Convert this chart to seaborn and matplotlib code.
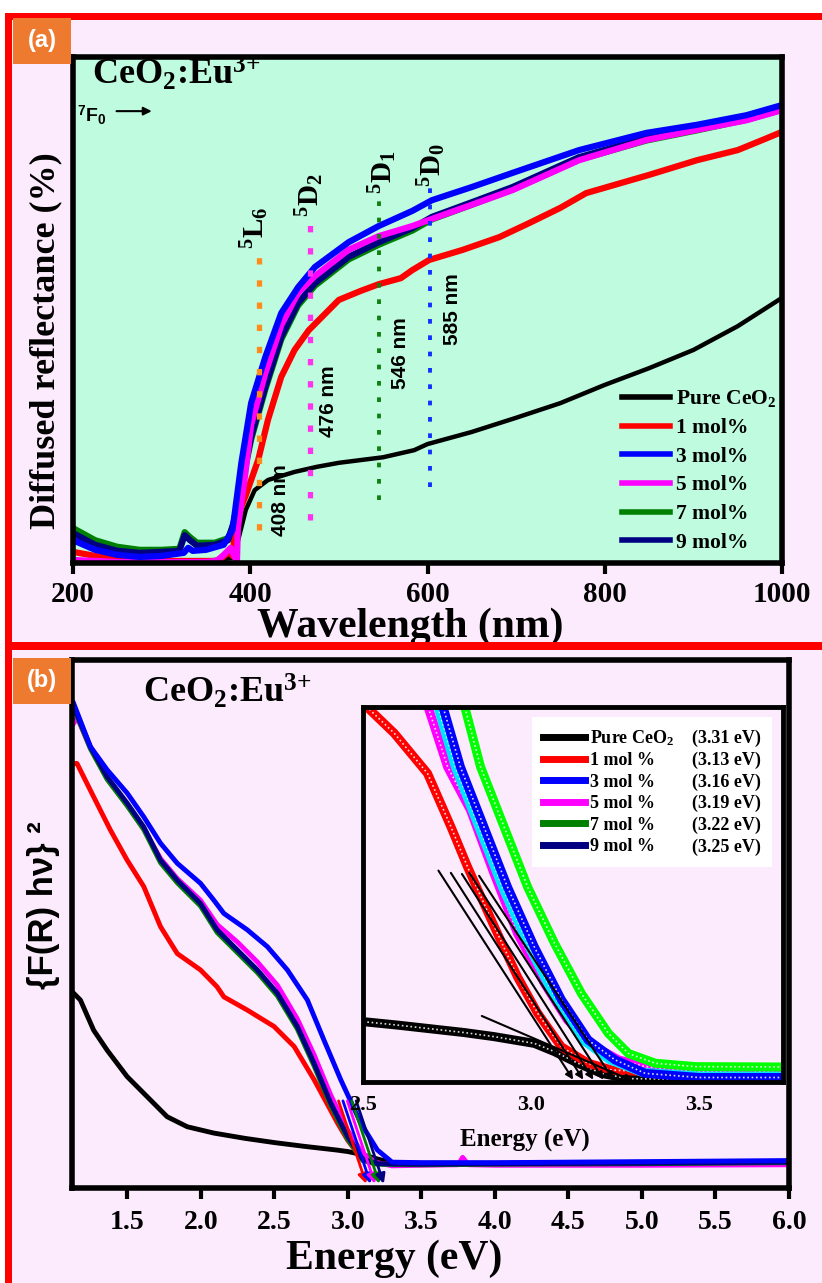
import matplotlib
matplotlib.use("Agg")
import matplotlib.pyplot as plt
import seaborn as sns
from matplotlib.lines import Line2D
from matplotlib.patches import Rectangle

# ---------------- panel (a): diffused reflectance (%) vs wavelength (nm) ----------------
wl_pure = [200, 250, 300, 350, 380, 385, 395, 405, 420, 450, 475, 500, 550, 585, 600,
           650, 700, 750, 800, 850, 900, 950, 1000]
refl_pure = [0.2, 0.2, 0.2, 0.4, 1.0, 3.6, 10.5, 14.4, 16.4, 18.0, 19.0, 19.8, 20.9, 22.3, 23.5,
             25.9, 28.7, 31.6, 35.2, 38.5, 42.1, 46.8, 52.4]

wl_1 = [200, 225, 250, 300, 350, 365, 375, 380, 384, 395, 409, 420, 435, 450, 466, 500, 525,
        545, 570, 583, 602, 640, 681, 715, 750, 779, 850, 904, 950, 978, 1000]
refl_1 = [2.2, 1.4, 0.6, 0.4, 0.4, 0.4, 2.2, 1.4, 8.5, 13.4, 20.4, 28.3, 36.8, 42.1, 46.0, 52.0, 53.8,
          55.1, 56.3, 57.9, 59.9, 61.9, 64.4, 67.2, 70.2, 73.1, 76.7, 79.6, 81.6, 83.6, 85.2]

wl_3 = [200, 225, 250, 275, 300, 325, 330, 335, 350, 370, 380, 390, 401, 417, 435, 454, 473,
        511, 545, 583, 605, 650, 696, 771, 847, 904, 960, 1000]
refl_3 = [4.5, 2.6, 1.6, 1.2, 1.4, 2.0, 3.0, 2.4, 2.6, 3.6, 6.5, 19.8, 31.6, 40.7, 49.4, 54.5, 58.5,
          63.4, 66.6, 69.6, 71.7, 74.3, 77.1, 81.6, 85.0, 86.6, 88.5, 90.5]

wl_5 = [200, 250, 300, 350, 362, 370, 378, 383, 385, 386, 395, 401, 417, 435, 454, 473, 511,
        545, 583, 605, 650, 696, 771, 847, 904, 960, 1000]
refl_5 = [0.6, 0.2, 0.2, 0.2, 0.4, 1.6, 3.0, 1.0, 0.4, 6.9, 18.4, 27.3, 37.5, 47.0, 53.4, 56.7, 61.9,
          64.6, 66.6, 68.0, 70.8, 73.7, 79.6, 83.6, 85.6, 87.5, 89.5]

wl_7 = [200, 225, 250, 275, 300, 320, 326, 332, 340, 360, 375, 381, 390, 401, 417, 435, 454,
        473, 511, 545, 583, 605, 650, 696, 771, 847, 904, 960, 1000]
refl_7 = [6.9, 4.5, 3.2, 2.6, 2.6, 2.8, 6.1, 5.1, 4.0, 4.0, 4.9, 7.5, 15.0, 24.4, 34.3, 44.2, 50.9,
          54.8, 60.0, 62.9, 65.7, 67.9, 70.8, 73.8, 79.7, 83.5, 85.5, 87.6, 89.6]

wl_9 = [200, 225, 250, 275, 300, 320, 326, 332, 340, 360, 375, 381, 390, 401, 417, 435, 454,
        473, 511, 545, 583, 605, 650, 696, 771, 847, 904, 960, 1000]
refl_9 = [5.9, 3.6, 2.4, 2.0, 2.2, 2.4, 5.5, 4.5, 3.4, 3.6, 4.5, 7.9, 15.4, 24.9, 34.8, 44.7, 51.4,
          55.3, 60.5, 63.4, 66.2, 68.4, 71.3, 74.3, 80.2, 84.0, 86.0, 88.1, 90.1]

# Eu3+ transitions marked by dotted lines
trans_wl = [410, 467, 545, 603]
trans_top = [61.9, 68.4, 73.7, 75.7]
trans_bottom = [6.5, 8.5, 12.5, 15.0]
trans_terms = [r"$^5$L$_6$", r"$^5$D$_2$", r"$^5$D$_1$", r"$^5$D$_0$"]
trans_nm = ["408 nm", "476 nm", "546 nm", "585 nm"]

# ---------------- panel (b): {F(R) hv}^2 vs energy (eV) ----------------
E_pure = [1.134, 1.18, 1.27, 1.362, 1.498, 1.634, 1.77, 1.907, 2.088, 2.3, 2.5, 2.7, 2.92, 3.0,
          3.1, 3.2, 3.3, 3.5, 4.0, 5.0, 6.0]
F_pure = [36.9, 35.6, 29.9, 26.1, 21.1, 17.3, 13.5, 11.6, 10.4, 9.4, 8.6, 7.9, 7.2, 6.9,
          6.3, 5.5, 4.8, 4.7, 4.7, 4.8, 5.0]

E_1 = [1.134, 1.157, 1.27, 1.384, 1.498, 1.611, 1.725, 1.839, 1.997, 2.11, 2.156, 2.315, 2.497,
       2.634, 2.77, 2.929, 2.997, 3.08, 3.15, 3.25, 3.5, 4.0, 5.0, 6.0]
F_1 = [80.4, 80.4, 74.1, 67.8, 62.1, 57.1, 49.5, 44.4, 41.3, 38.1, 36.2, 33.7, 30.6,
       26.8, 20.5, 12.3, 9.1, 6.0, 4.8, 4.6, 4.5, 4.5, 4.6, 4.9]

E_3 = [1.134, 1.248, 1.362, 1.498, 1.611, 1.725, 1.839, 1.997, 2.088, 2.156, 2.315, 2.452, 2.588,
       2.724, 2.837, 2.951, 3.087, 3.2, 3.3, 3.5, 4.0, 5.0, 6.0]
F_3 = [91.8, 83.6, 79.2, 74.8, 70.3, 65.3, 61.5, 57.7, 54.5, 52.0, 48.9, 45.7, 41.3,
       35.6, 28.0, 20.5, 12.3, 7.2, 4.9, 4.8, 4.8, 5.0, 5.2]

E_5 = [1.134, 1.16, 1.248, 1.362, 1.498, 1.611, 1.725, 1.839, 1.997, 2.11, 2.247, 2.384, 2.52,
       2.656, 2.77, 2.883, 2.997, 3.1, 3.2, 3.3, 3.5, 3.75, 3.78, 3.82, 4.0, 5.0, 6.0]
F_5 = [88.0, 89.0, 83.3, 77.5, 72.5, 68.0, 62.4, 58.6, 54.5, 49.9, 46.6, 42.8, 38.4,
       32.0, 25.2, 17.6, 11.0, 6.5, 4.8, 4.2, 4.3, 4.4, 5.8, 4.4, 4.3, 4.3, 4.4]

E_7 = [1.134, 1.248, 1.362, 1.498, 1.611, 1.725, 1.839, 1.997, 2.11, 2.247, 2.384, 2.52, 2.656,
       2.77, 2.883, 2.997, 3.1, 3.2, 3.5, 4.0, 5.0, 6.0]
F_7 = [91.0, 83.2, 77.4, 72.4, 67.9, 61.6, 57.8, 53.4, 48.4, 44.6, 40.8, 36.4, 30.1,
       23.1, 15.6, 9.3, 5.2, 4.5, 4.4, 4.5, 4.6, 4.8]

E_9 = [1.134, 1.248, 1.362, 1.498, 1.611, 1.725, 1.839, 1.997, 2.11, 2.247, 2.384, 2.52, 2.656,
       2.77, 2.883, 2.997, 3.1, 3.2, 3.5, 4.0, 5.0, 6.0]
F_9 = [91.2, 83.6, 77.9, 72.9, 68.4, 62.1, 58.3, 53.9, 48.9, 45.1, 41.3, 36.9, 30.6,
       23.6, 16.1, 9.8, 5.5, 4.6, 4.5, 4.6, 4.7, 4.9]

# band gaps (eV) for Pure, 1, 3, 5, 7, 9 mol %
gap_labels = ["Pure CeO$_2$", "1 mol %", "3 mol %", "5 mol %", "7 mol %", "9 mol %"]
gap_values = [3.31, 3.13, 3.16, 3.19, 3.22, 3.25]

# ---------------- inset: zoom of the absorption edge ----------------
Ei_pure = [2.5, 2.6, 2.69, 2.8, 2.89, 2.95, 3.01, 3.07, 3.14, 3.21, 3.29, 3.4, 3.6, 3.75]
Fi_pure = [16.1, 15.2, 14.3, 13.2, 12.1, 11.2, 10.3, 8.1, 5.0, 2.3, 0.9, 0.8, 0.8, 0.8]
Ei_1 = [2.5, 2.593, 2.692, 2.762, 2.811, 2.891, 2.96, 3.02, 3.09, 3.17, 3.24, 3.4, 3.6, 3.7, 3.75]
Fi_1 = [101, 93, 82.3, 68, 57.4, 41.4, 28, 18.3, 9.4, 5.0, 3.2, 2.5, 2.5, 3.0, 4.0]
Ei_5 = [2.69, 2.752, 2.82, 2.89, 2.96, 3.04, 3.109, 3.19, 3.26, 3.34, 3.5, 3.65, 3.75]
Fi_5 = [101, 84, 72.5, 55.6, 39.6, 26.3, 16.5, 9.4, 5.9, 4.1, 2.8, 2.5, 3.2]
Ei_9 = [2.72, 2.775, 2.845, 2.915, 2.995, 3.075, 3.155, 3.235, 3.33, 3.5, 3.75]
Fi_9 = [101, 84, 68, 52, 36, 22, 11.2, 5.9, 2.6, 1.6, 1.6]
Ei_3 = [2.735, 2.79, 2.86, 2.93, 3.01, 3.09, 3.17, 3.25, 3.34, 3.5, 3.75]
Fi_3 = [101, 84, 68, 52, 36, 22, 11.2, 5.9, 2.3, 1.2, 1.2]
Ei_7 = [2.80, 2.85, 2.92, 2.99, 3.07, 3.15, 3.23, 3.29, 3.37, 3.49, 3.75]
Fi_7 = [101, 84, 68, 52, 37, 23.6, 13, 7.6, 5, 4.1, 4.0]

# tangent lines (start points) extrapolated to the gaps
tan_E = [2.846, 2.72, 2.757, 2.79, 2.812, 2.841]
tan_F = [17.9, 57.0, 56.4, 56.1, 56.4, 55.6]

W, H = 822, 1283
LAVENDER = "#FCEBFC"
MINT = "#BEFBDF"
ORANGE = "#EE7A30"
colors = ["black", "#FF0000", "#0000FF", "#FF00FF", "#008000", "#000080"]

plt.rcParams["font.family"] = ["Liberation Serif", "DejaVu Serif"]
plt.rcParams["font.weight"] = "bold"
plt.rcParams["mathtext.fontset"] = "custom"
plt.rcParams["mathtext.rm"] = "Liberation Serif:bold"
plt.rcParams["mathtext.it"] = "Liberation Serif:italic:bold"
plt.rcParams["mathtext.bf"] = "Liberation Serif:bold"
plt.rcParams["mathtext.sf"] = "Liberation Sans:bold"


def fx(px):
    return px / W


def fy(py):
    return 1 - py / H


fig = plt.figure(figsize=(W / 100, H / 100), dpi=100, facecolor="white")

# page decoration: lavender panel + red frame lines + orange panel tags
fig.add_artist(Rectangle((fx(12), 0), 1 - fx(12), fy(20), transform=fig.transFigure,
                         fc=LAVENDER, ec="none", zorder=-10))
fig.add_artist(Rectangle((fx(5), fy(20)), 1 - fx(5), 7 / H, transform=fig.transFigure,
                         fc="red", ec="none"))
fig.add_artist(Rectangle((fx(5), 0), 7 / W, fy(13), transform=fig.transFigure,
                         fc="red", ec="none"))
fig.add_artist(Rectangle((fx(5), fy(650)), 1 - fx(5), 8 / H, transform=fig.transFigure,
                         fc="red", ec="none"))
for tag, top in [("(a)", 18), ("(b)", 658)]:
    fig.add_artist(Rectangle((fx(13), fy(top + 46)), 58 / W, 46 / H, transform=fig.transFigure,
                             fc=ORANGE, ec="none", zorder=5))
    fig.text(fx(42), fy(top + 23), tag, color="white", fontsize=17, fontweight="bold",
             family="Liberation Sans", ha="center", va="center", zorder=6)

# ======================= panel (a) =======================
ax_a = fig.add_axes([fx(73), fy(563), fx(782) - fx(73), (563 - 57) / H])
ax_a.set_facecolor(MINT)

series_a = [(wl_pure, refl_pure, colors[0], 3.2),
            (wl_1, refl_1, colors[1], 4.5),
            (wl_7, refl_7, colors[4], 4.5),
            (wl_9, refl_9, colors[5], 4.5),
            (wl_5, refl_5, colors[3], 4.5),
            (wl_3, refl_3, colors[2], 4.5)]
for xs, ys, c, lw in series_a:
    sns.lineplot(x=xs, y=ys, ax=ax_a, color=c, linewidth=lw, estimator=None,
                 sort=False, legend=False)

dot_colors = ["#FF8C1A", "#FF33EE", "#108010", "#1030FF"]
dot_lw = [3.8, 3.8, 2.8, 2.8]
for wl, top, bot, c, lw in zip(trans_wl, trans_top, trans_bottom, dot_colors, dot_lw):
    ax_a.plot([wl, wl], [bot, top], color=c, lw=lw, ls=(0, (1.2, 3.0)),
              dash_capstyle="butt", zorder=4)

term_pos = [(405, 66.2), (467, 72.7), (549, 77.3), (605, 78.7)]
for (x, y), t in zip(term_pos, trans_terms):
    ax_a.text(x, y, t, rotation=90, fontsize=21, ha="center", va="center")
nm_pos = [(434, 12.5), (488, 32.0), (570, 41.5), (628, 50.2)]
for (x, y), t in zip(nm_pos, trans_nm):
    ax_a.text(x, y, t, rotation=90, fontsize=15, ha="center", va="center",
              family="Liberation Sans", fontweight="bold")

ax_a.text(221, 94.5, r"CeO$_2$:Eu$^{3{+}}$", fontsize=26, va="baseline")
ax_a.text(205, 88.5, r"$^{\mathsf{7}}\mathsf{F}_{\mathsf{0}}$", fontsize=14, va="center")
ax_a.annotate("", xy=(292, 89.3), xytext=(246, 89.3),
              arrowprops=dict(arrowstyle="-|>", lw=1.5, color="black", mutation_scale=12))

ax_a.set_xlim(200, 1000)
ax_a.set_ylim(0, 100)
ax_a.set_xticks([200, 400, 600, 800, 1000])
ax_a.tick_params(axis="x", direction="out", length=8, width=3, labelsize=21, pad=5)
ax_a.tick_params(axis="y", left=False, labelleft=False)
ax_a.set_xlabel("Wavelength (nm)", fontsize=30, fontweight="bold")
ax_a.xaxis.set_label_coords(0.475, -0.088)
ax_a.set_ylabel("Diffused reflectance (%)", fontsize=26, fontweight="bold")
ax_a.yaxis.set_label_coords(-0.015, 0.44)
for s in ax_a.spines.values():
    s.set_linewidth(4)

handles_a = [Line2D([0], [0], color=c, lw=4) for c in colors]
labels_a = ["Pure CeO$_2$", "1 mol%", "3 mol%", "5 mol%", "7 mol%", "9 mol%"]
ax_a.legend(handles_a, labels_a, loc="upper left", bbox_to_anchor=(0.775, 0.345),
            frameon=False, borderpad=0, borderaxespad=0, handlelength=2.2,
            handletextpad=0.3, labelspacing=0.4, prop=dict(size=15.5, weight="bold"))

# ======================= panel (b) =======================
ax_b = fig.add_axes([fx(72), fy(1188), fx(789) - fx(72), (1188 - 660) / H])
ax_b.set_facecolor(LAVENDER)

series_b = [(E_pure, F_pure, colors[0]),
            (E_1, F_1, colors[1]),
            (E_5, F_5, colors[3]),
            (E_7, F_7, colors[4]),
            (E_9, F_9, colors[5]),
            (E_3, F_3, colors[2])]
for xs, ys, c in series_b:
    sns.lineplot(x=xs, y=ys, ax=ax_b, color=c, linewidth=3.5, estimator=None,
                 sort=False, legend=False)

for g, c in zip(gap_values[1:], colors[1:]):
    ax_b.annotate("", xy=(g, 0.3), xytext=(g - 0.2, 17),
                  arrowprops=dict(arrowstyle="-|>", lw=2, color=c, mutation_scale=14))

ax_b.text(1.609, 91.9, r"CeO$_2$:Eu$^{3{+}}$", fontsize=26, va="baseline")
ax_b.set_xlim(1.123, 6.0)
ax_b.set_ylim(0, 100)
ax_b.set_xticks([1.5, 2.0, 2.5, 3.0, 3.5, 4.0, 4.5, 5.0, 5.5, 6.0])
ax_b.set_xticklabels([f"{v:.1f}" for v in ax_b.get_xticks()])
ax_b.tick_params(axis="x", direction="out", length=8, width=3, labelsize=20, pad=8)
ax_b.tick_params(axis="y", left=False, labelleft=False)
ax_b.set_xlabel("Energy (eV)", fontsize=30, fontweight="bold")
ax_b.xaxis.set_label_coords(0.45, -0.097)
ax_b.set_ylabel("{F(R) h\u03bd} \u00b2", fontsize=25, fontweight="bold",
                family="Liberation Sans")
ax_b.yaxis.set_label_coords(-0.017, 0.536)
for s in ax_b.spines.values():
    s.set_linewidth(4)

# ----- inset -----
ax_in = fig.add_axes([fx(363), fy(1082), fx(783) - fx(363), (1082 - 707) / H])
ax_in.set_facecolor(LAVENDER)
series_in = [(Ei_pure, Fi_pure, "black"),
             (Ei_1, Fi_1, "#FF0000"),
             (Ei_5, Fi_5, "#FF00FF"),
             (Ei_9, Fi_9, "#00E5FF"),
             (Ei_3, Fi_3, "#0000FF"),
             (Ei_7, Fi_7, "#00FF00")]
for xs, ys, c in series_in:
    sns.lineplot(x=xs, y=ys, ax=ax_in, color=c, linewidth=6.5, estimator=None,
                 sort=False, legend=False)
    ax_in.plot(xs, ys, color="white", lw=1.2, ls=(0, (1, 1.6)), alpha=0.85)

for e0, f0, g in zip(tan_E, tan_F, gap_values):
    ax_in.annotate("", xy=(g, 0), xytext=(e0, f0),
                   arrowprops=dict(arrowstyle="-|>", lw=1.5, color="black", mutation_scale=11))

ax_in.set_xlim(2.5, 3.75)
ax_in.set_ylim(0, 100)
ax_in.set_xticks([2.5, 3.0, 3.5])
ax_in.set_xticklabels(["2.5", "3.0", "3.5"])
ax_in.tick_params(axis="x", length=0, labelsize=16, pad=9)
ax_in.tick_params(axis="y", left=False, labelleft=False)
ax_in.set_xlabel("Energy (eV)", fontsize=18, fontweight="bold")
ax_in.xaxis.set_label_coords(0.386, -0.125)
for s in ax_in.spines.values():
    s.set_linewidth(3.5)

handles_in = [Line2D([0], [0], color=c, lw=5) for c in colors]
blank = [Line2D([0], [0], lw=0, alpha=0) for _ in colors]
labels_ev = [f"({g:.2f} eV)" for g in gap_values]
leg = ax_in.legend(handles_in + blank, gap_labels + labels_ev, ncol=2, loc="upper right",
                   bbox_to_anchor=(0.974, 0.973), frameon=True, fancybox=False,
                   facecolor="white", edgecolor="none", framealpha=1, borderpad=0.6,
                   borderaxespad=0, handlelength=2.3, handletextpad=0.3,
                   labelspacing=0.25, columnspacing=-1.6, prop=dict(size=13, weight="bold"))

fig.savefig("out.png", dpi=100, facecolor=fig.get_facecolor())
